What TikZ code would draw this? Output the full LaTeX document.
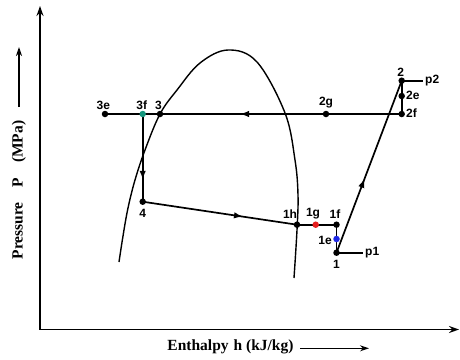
\documentclass[tikz,border=0pt]{standalone}
\usepackage{fontspec}
\setmainfont{Liberation Serif}
\newfontfamily\lblfont{Liberation Sans}
\usetikzlibrary{arrows.meta,decorations.markings,backgrounds}
\definecolor{tealdot}{RGB}{20,150,125}
\definecolor{reddot}{RGB}{230,30,30}
\definecolor{bluedot}{RGB}{30,40,230}
\begin{document}
\begin{tikzpicture}[x=1pt,y=-1pt,
  dot/.style={circle,fill=black,inner sep=0pt,minimum size=6.5pt},
  lbl/.style={font=\lblfont\bfseries\fontsize{12}{12}\selectfont,inner sep=0pt},
  axlbl/.style={font=\bfseries\fontsize{15.5}{15.5}\selectfont,inner sep=0pt},
  ln/.style={line width=1.7pt},
  tipa/.style={-{Stealth[length=9pt,width=6pt]}},
  midarrow/.style={postaction={decorate},decoration={markings,mark=at position #1 with {\arrow{Latex[length=9pt,width=6.5pt]}}}},
]
\useasboundingbox (0,0) rectangle (460,359);
% axes
\coordinate (ytop) at (40,6);
\coordinate (O) at (40,329.5);
\coordinate (xend) at (459,329.5);
\draw[line width=1.6pt,{Stealth[length=10pt,width=7pt]}-{Stealth[length=10pt,width=7pt]}] (ytop) -- (O) -- (xend);
% axis labels
\node[axlbl] (xlab) at (230.5,346.5) {Enthalpy\hspace{5pt}h (kJ/kg)};
\coordinate (xa1) at (300,348.3);
\coordinate (xa2) at (369,348.3);
\draw[line width=1.2pt,tipa] (xa1) -- (xa2);
\node[axlbl,rotate=90] (ylab) at (19,190) {Pressure\hspace{15pt}P\hspace{15pt}(MPa)};
\coordinate (ya1) at (19,107);
\coordinate (ya2) at (19,47);
\draw[line width=1.2pt,tipa] (ya1) -- (ya2);
% state points
\node[dot] (p3e) at (105,114) {};
\node[dot,fill=tealdot] (p3f) at (142.7,114) {};
\node[dot] (p3) at (160,114) {};
\node[dot] (p2g) at (326,114) {};
\node[dot] (p2f) at (401.7,114) {};
\node[dot] (p2e) at (401.7,96) {};
\node[dot] (p2) at (401.7,80.7) {};
\node[dot] (p4) at (142.7,201.7) {};
\node[dot] (p1h) at (297,224.7) {};
\node[dot,fill=reddot] (p1g) at (315.7,224.7) {};
\node[dot] (p1f) at (336.5,224.7) {};
\node[dot,fill=bluedot] (p1e) at (336.5,239) {};
\node[dot] (p1) at (336.5,252.7) {};
\coordinate (p1end) at (363,252.7);
\coordinate (p2end) at (423,80.7);
% labels
\node[lbl] (l3e) at (103.3,105) {3e};
\node[lbl] (l3f) at (141.7,105) {3f};
\node[lbl] (l3) at (158.5,105) {3};
\node[lbl] (l2g) at (326,103) {2g};
\node[lbl] (l2) at (400.7,72.5) {2};
\node[lbl,anchor=west] (l2e) at (406,95.5) {2e};
\node[lbl,anchor=west] (l2f) at (406,113.5) {2f};
\node[lbl,anchor=west] (lp2) at (425,80.7) {p2};
\node[lbl] (l4) at (142.7,213.5) {4};
\node[lbl] (l1) at (336.5,264.5) {1};
\node[lbl] (l1h) at (290,214.5) {1h};
\node[lbl] (l1g) at (313,214) {1g};
\node[lbl] (l1f) at (335,214) {1f};
\node[lbl] (l1e) at (325,240) {1e};
\node[lbl,anchor=west] (lp1) at (365,252.7) {p1};
% lines
\begin{scope}[on background layer]
\draw[line width=1.4pt] plot[smooth,tension=0.6] coordinates {(119,262) (123,236) (128,208) (135,180) (145,150) (160,114) (177,90) (200,63) (228,50) (257,62) (285,113) (295,160) (298,195) (297,230) (294,278)};
\draw[ln,midarrow=0.545] (p2f.center) -- (p3e.center);
\draw[ln,midarrow=0.75] (p3f.center) -- (p4.center);
\draw[ln,midarrow=0.65] (p4.center) -- (p1h.center);
\draw[ln] (p1h.center) -- (p1f.center) -- (p1.center);
\draw[ln,midarrow=0.43] (p1.center) -- (p2.center);
\draw[ln] (p2.center) -- (p2f.center);
\draw[ln] (p1.center) -- (p1end);
\draw[ln] (p2.center) -- (p2end);
\end{scope}
\end{tikzpicture}
\end{document}
